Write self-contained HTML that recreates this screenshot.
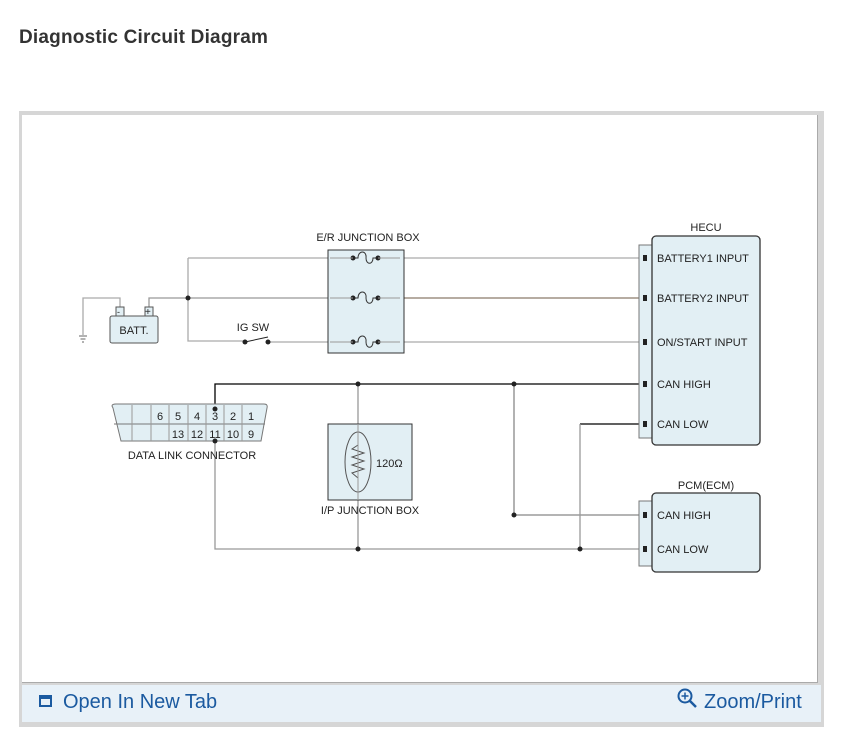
<!DOCTYPE html>
<html><head><meta charset="utf-8"><style>
html,body{margin:0;padding:0;background:#fff;width:857px;height:744px;overflow:hidden;font-family:"Liberation Sans",sans-serif}
.t{position:absolute;left:19px;top:27px;font-size:19px;font-weight:bold;color:#333;letter-spacing:0.2px}
.frame{position:absolute;left:19px;top:111px;width:805px;height:616px;background:#d6d6d6}
.inner{position:absolute;left:22px;top:115px;width:795px;height:567px;background:#fff;border-right:1px solid #aaa;border-bottom:1px solid #aaa}
.foot{position:absolute;left:22px;top:685px;width:799px;height:37px;background:#e8f1f8}
.lk{position:absolute;top:691px;font-size:20px;color:#1b5aa0}
</style></head><body>
<div class="t">Diagnostic Circuit Diagram</div>
<div class="frame"></div><div class="inner"></div><div class="foot"></div>
<div class="lk" style="left:39px"><span style="display:inline-block;width:13px;height:12px;border:2px solid #1b5aa0;box-sizing:border-box;border-top-width:4px;vertical-align:1px;margin-right:11px"></span>Open In New Tab</div>
<svg width="22" height="22" style="position:absolute;left:677px;top:688px"><circle cx="8" cy="8" r="6.5" fill="none" stroke="#1b5aa0" stroke-width="2"/><path d="M8 4.5V11.5M4.5 8H11.5" stroke="#1b5aa0" stroke-width="1.5"/><path d="M13 13L19 19" stroke="#1b5aa0" stroke-width="2.5"/></svg>
<div class="lk" style="left:704px">Zoom/Print</div>
<svg width="857" height="744" style="position:absolute;left:0;top:0" font-family="Liberation Sans,sans-serif" font-size="11" fill="#222">
<g fill="none" stroke-width="1.3">
<path d="M120 307 V298 H83 V335" stroke="#aaa"/>
<path d="M149 307 V298 H330" stroke="#999"/>
<path d="M188 258 V341 H245" stroke="#aaa"/>
<path d="M268 342 H330" stroke="#aaa"/>
<path d="M188 258 H330" stroke="#aaa"/>
<path d="M400 258 H645" stroke="#aaa"/>
<path d="M400 298 H645" stroke="#8a7a6a"/>
<path d="M400 342 H645" stroke="#aaa"/>
<path d="M215 409 V384 H645" stroke="#000"/>
<path d="M215 441 V549 H645" stroke="#999"/>
<path d="M358 384 V549" stroke="#999"/>
<path d="M514 384 V515 H645" stroke="#888"/>
<path d="M645 424 H580" stroke="#000"/>
<path d="M580 424 V549" stroke="#999"/>
</g>
<g stroke="#666" stroke-width="1"><line x1="79" y1="336" x2="87" y2="336"/><line x1="80.5" y1="339" x2="85.5" y2="339"/><line x1="82" y1="342" x2="84" y2="342"/></g>
<rect x="116" y="307" width="8" height="9" fill="#e2eff4" stroke="#555"/>
<rect x="145" y="307" width="8" height="9" fill="#e2eff4" stroke="#555"/>
<text x="117" y="315" font-size="9">-</text><text x="145" y="315" font-size="10">+</text>
<rect x="110" y="316" width="48" height="27" rx="2" fill="#e2eff4" stroke="#555"/>
<text x="134" y="334" text-anchor="middle">BATT.</text>
<line x1="245" y1="342" x2="268" y2="337" stroke="#222"/>
<circle cx="245" cy="342" r="2.5"/><circle cx="268" cy="342" r="2.5"/>
<text x="253" y="331" text-anchor="middle">IG SW</text>
<circle cx="188" cy="298" r="2.5"/>
<text x="368" y="241" text-anchor="middle">E/R JUNCTION BOX</text>
<rect x="328" y="250" width="76" height="103" fill="#e2eff4" stroke="#333"/>
<g fill="none" stroke="#333"><path d="M353 258 H358 C358 250 367 250 366 258 C366 265 373 265 373 258 H378"/><path d="M353 298 H358 C358 290 367 290 366 298 C366 305 373 305 373 298 H378"/><path d="M353 342 H358 C358 334 367 334 366 342 C366 349 373 349 373 342 H378"/></g>
<g><circle cx="353" cy="258" r="2.5"/><circle cx="378" cy="258" r="2.5"/><circle cx="353" cy="298" r="2.5"/><circle cx="378" cy="298" r="2.5"/><circle cx="353" cy="342" r="2.5"/><circle cx="378" cy="342" r="2.5"/></g>
<path d="M330 258 H353 M330 298 H353 M330 342 H353 M378 258 H400 M378 298 H400 M378 342 H400" stroke="#999"/>
<path d="M112 406 Q112 404 116 404 H264 Q268 404 267 408 L261 441 H121 L113 408 Z" fill="#e2eff4" stroke="#777"/>
<line x1="114" y1="424" x2="265" y2="424" stroke="#777"/>
<g stroke="#999"><line x1="132" y1="405" x2="132" y2="441"/><line x1="151" y1="405" x2="151" y2="441"/><line x1="169" y1="405" x2="169" y2="441"/><line x1="188" y1="405" x2="188" y2="441"/><line x1="206" y1="405" x2="206" y2="441"/><line x1="224" y1="405" x2="224" y2="441"/><line x1="242" y1="405" x2="242" y2="441"/></g>
<g text-anchor="middle" font-size="11"><text x="160" y="420">6</text><text x="178" y="420">5</text><text x="197" y="420">4</text><text x="215" y="420">3</text><text x="233" y="420">2</text><text x="251" y="420">1</text>
<text x="178" y="438">13</text><text x="197" y="438">12</text><text x="215" y="438">11</text><text x="233" y="438">10</text><text x="251" y="438">9</text></g>
<circle cx="215" cy="409" r="2.5"/><circle cx="215" cy="441" r="2.5"/>
<text x="192" y="459" text-anchor="middle">DATA LINK CONNECTOR</text>
<rect x="328" y="424" width="84" height="76" fill="#e2eff4" stroke="#333"/>
<ellipse cx="358" cy="462" rx="13" ry="30" fill="none" stroke="#555"/>
<path d="M358 445 L352 449 L364 453 L352 457 L364 461 L352 465 L364 469 L352 473 L358 478" fill="none" stroke="#555"/>
<line x1="358" y1="424" x2="358" y2="500" stroke="#999"/>
<text x="376" y="467">120Ω</text>
<text x="370" y="514" text-anchor="middle">I/P JUNCTION BOX</text>
<g><circle cx="358" cy="384" r="2.5"/><circle cx="514" cy="384" r="2.5"/><circle cx="358" cy="549" r="2.5"/><circle cx="580" cy="549" r="2.5"/><circle cx="514" cy="515" r="2.5"/></g>
<text x="706" y="231" text-anchor="middle">HECU</text>
<rect x="639" y="245" width="14" height="193" fill="#e2eff4" stroke="#777"/>
<rect x="652" y="236" width="108" height="209" rx="4" fill="#e2eff4" stroke="#333" stroke-width="1.3"/>
<g><rect x="643" y="255" width="4" height="6"/><rect x="643" y="295" width="4" height="6"/><rect x="643" y="339" width="4" height="6"/><rect x="643" y="381" width="4" height="6"/><rect x="643" y="421" width="4" height="6"/></g>
<text x="657" y="262">BATTERY1 INPUT</text><text x="657" y="302">BATTERY2 INPUT</text><text x="657" y="346">ON/START INPUT</text><text x="657" y="388">CAN HIGH</text><text x="657" y="428">CAN LOW</text>
<text x="706" y="489" text-anchor="middle">PCM(ECM)</text>
<rect x="639" y="501" width="14" height="65" fill="#e2eff4" stroke="#777"/>
<rect x="652" y="493" width="108" height="79" rx="4" fill="#e2eff4" stroke="#333" stroke-width="1.3"/>
<rect x="643" y="512" width="4" height="6"/><rect x="643" y="546" width="4" height="6"/>
<text x="657" y="519">CAN HIGH</text><text x="657" y="553">CAN LOW</text>
</svg>
</body></html>
